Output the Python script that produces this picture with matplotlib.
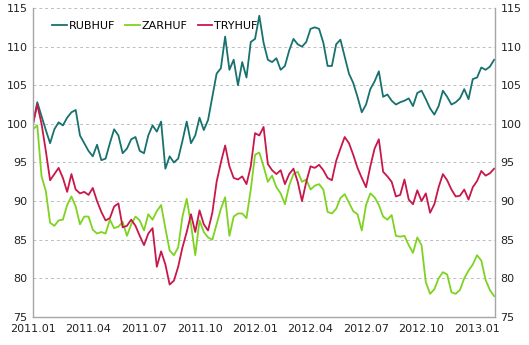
import numpy as np
import matplotlib
matplotlib.use("Agg")
import matplotlib.pyplot as plt

# weekly closes, first week of 2011.01 = 100
rubhuf = [100, 102.8, 101, 99.2, 97.5, 99.3, 100.2, 99.8, 100.8, 101.5,
          101.8, 98.5, 97.5, 96.5, 95.8, 97.3, 95.3, 95.5, 97.5, 99.3,
          98.5, 96.2, 96.8, 98, 98.3, 96.5, 96.2, 98.5, 99.8, 99,
          100.3, 94.2, 95.8, 95, 95.5, 97.8, 100.3, 97.5, 98.5, 100.8,
          99.2, 100.5, 103.5, 106.5, 107.2, 111.3, 107, 108.3, 105, 108,
          106, 110.6, 111, 114, 110.5, 108.3, 108, 108.5, 107, 107.5,
          109.5, 111, 110.3, 110, 110.6, 112.3, 112.5, 112.3, 110.5, 107.5,
          107.5, 110.3, 110.9, 108.7, 106.5, 105.3, 103.5, 101.5, 102.5, 104.5,
          105.5, 106.8, 103.5, 103.8, 103, 102.5, 102.8, 103, 103.3, 102.3,
          104, 104.3, 103.2, 102, 101.2, 102.3, 104.3, 103.5, 102.5, 102.8,
          103.3, 104.5, 103.2, 105.8, 106, 107.3, 107, 107.4, 108.3]

zarhuf = [99.3, 99.8, 93.2, 91.3, 87.2, 86.8, 87.5, 87.6, 89.5, 90.6,
          89.3, 87, 88, 88, 86.3, 85.8, 86, 85.8, 87.6, 86.5,
          86.7, 87.3, 85.5, 87, 88, 87.5, 86.2, 88.3, 87.6, 88.7,
          89.5, 86.5, 83.6, 83, 84, 88, 90.3, 87, 83, 87.5,
          86, 85.3, 85, 87, 89, 90.5, 85.5, 88, 88.4, 88.4,
          87.8, 91.5, 96, 96.3, 94.5, 92.5, 93.3, 91.8, 91, 89.6,
          92, 93.5, 93.8, 92.5, 92.8, 91.5, 92, 92.2, 91.5, 88.6,
          88.4, 89, 90.4, 90.9, 89.8, 88.7, 88.3, 86.2, 89.5, 91,
          90.5, 89.5, 88, 87.6, 88.2, 85.5, 85.4, 85.5, 84.3, 83.3,
          85.3, 84.3, 79.5, 78, 78.6, 80, 80.8, 80.5, 78.2, 78,
          78.5, 80, 81, 81.8, 83, 82.3, 79.8, 78.5, 77.7]

tryhuf = [100, 102.5, 100, 96.5, 92.7, 93.5, 94.3, 93, 91.2, 93.5,
          91.5, 91, 91.2, 90.8, 91.7, 90, 88.6, 87.5, 87.8, 89.3,
          89.7, 86.6, 86.8, 87.6, 86.8, 85.5, 84.3, 85.8, 86.5, 81.5,
          83.5, 81.8, 79.2, 79.7, 81.5, 84, 86, 88.3, 86, 88.8,
          87, 86.2, 88.5, 92.5, 95, 97.2, 94.5, 93, 92.8, 93.2,
          92.2, 94.5, 98.8, 98.5, 99.6, 94.8, 94, 93.5, 94, 92.2,
          93.5, 94.2, 92.5, 90, 92.5, 94.5, 94.3, 94.7, 94, 93,
          92.7, 95.2, 96.8, 98.3, 97.5, 96, 94.3, 93, 91.8, 94.5,
          96.8, 98, 93.8, 93.2, 92.5, 90.6, 90.8, 92.8, 90.2, 89.6,
          91.4, 90, 91, 88.5, 89.6, 91.8, 93.5, 92.7, 91.5, 90.6,
          90.7, 91.5, 90.2, 91.8, 92.6, 93.9, 93.3, 93.6, 94.2]

quarter_labels = ["2011.01", "2011.04", "2011.07", "2011.10", "2012.01",
                  "2012.04", "2012.07", "2012.10", "2013.01"]

weeks = np.arange(len(rubhuf))

fig = plt.figure(figsize=(5.29, 3.45), dpi=100)
ax = fig.add_axes([0.0624, 0.0812, 0.8733, 0.8956])

ax.plot(weeks, rubhuf, color="#17726F", lw=1.3, label="RUBHUF")
ax.plot(weeks, zarhuf, color="#7ED321", lw=1.3, label="ZARHUF")
ax.plot(weeks, tryhuf, color="#C8174A", lw=1.3, label="TRYHUF")

ax.set_xlim(0, 108.2)
ax.set_ylim(75, 115)
ax.set_yticks(np.arange(75, 116, 5))
ax.set_xticks(np.arange(len(quarter_labels)) * 13)
ax.set_xticklabels(quarter_labels)

ax.yaxis.grid(True, linestyle=(0, (3, 3)), color="#BDBDBD", lw=0.7)
ax.set_axisbelow(True)

for side in ["left", "right", "bottom"]:
    ax.spines[side].set_color("#A6A6A6")
    ax.spines[side].set_linewidth(1.0)
ax.spines["top"].set_visible(False)

ax.tick_params(axis="both", length=0, labelsize=8, colors="#222222")
ax.tick_params(axis="y", left=True, right=True, labelleft=True,
               labelright=True, pad=4)
ax.tick_params(axis="x", pad=5)

ax.legend(loc="upper left", bbox_to_anchor=(0.02, 0.99), ncol=3,
          frameon=False, fontsize=8, handlelength=1.3, handletextpad=0.2,
          columnspacing=0.9)

fig.savefig("out.png", dpi=100)
